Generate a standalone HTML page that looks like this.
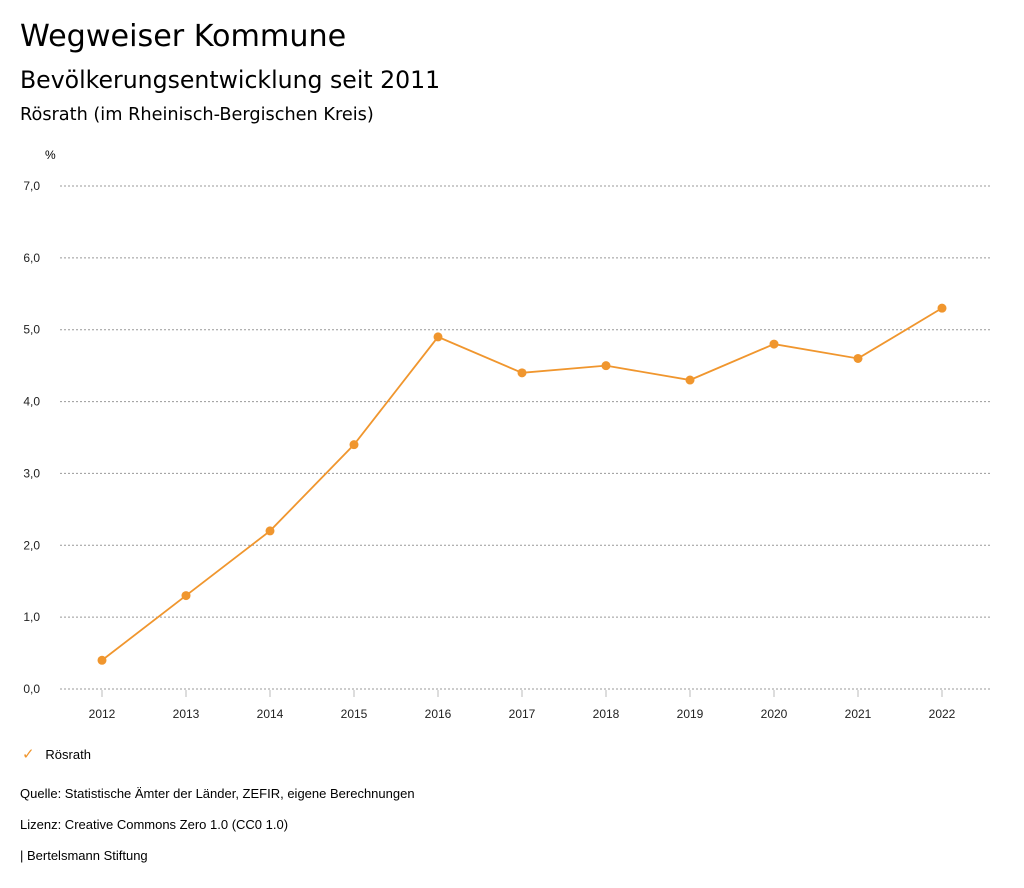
<!DOCTYPE html>
<html><head><meta charset="utf-8"><style>
body{margin:0;background:#fff;width:1024px;height:888px;overflow:hidden;font-family:"Liberation Sans","DejaVu Sans",sans-serif;color:#000}
.t{position:absolute;white-space:nowrap}
.h{font-family:"DejaVu Sans","Liberation Sans",sans-serif}
</style></head><body>
<div class="t h" style="left:20px;top:19px;font-size:30.2px">Wegweiser Kommune</div>
<div class="t h" style="left:20px;top:66px;font-size:23.6px">Bevölkerungsentwicklung seit 2011</div>
<div class="t h" style="left:20px;top:105px;font-size:17.7px">Rösrath (im Rheinisch-Bergischen Kreis)</div>
<svg id="chart" width="1024" height="888" style="position:absolute;left:0;top:0" font-family="Liberation Sans, DejaVu Sans, sans-serif"></svg>
<div class="t" style="left:22px;top:745px;font-size:13px"><span style="color:#f0962e;font-size:15px">✓</span>&nbsp;&nbsp;&nbsp;Rösrath</div>
<div class="t" style="left:20px;top:786px;font-size:13px">Quelle: Statistische Ämter der Länder, ZEFIR, eigene Berechnungen</div>
<div class="t" style="left:20px;top:817px;font-size:13px">Lizenz: Creative Commons Zero 1.0 (CC0 1.0)</div>
<div class="t" style="left:20px;top:848px;font-size:13px">| Bertelsmann Stiftung</div>
<script>
const years=[2012,2013,2014,2015,2016,2017,2018,2019,2020,2021,2022];
const values=[0.4,1.3,2.2,3.4,4.9,4.4,4.5,4.3,4.8,4.6,5.3];
const yTicks=[0,1,2,3,4,5,6,7];
const yTickLabels=["0,0","1,0","2,0","3,0","4,0","5,0","6,0","7,0"];
const NS="http://www.w3.org/2000/svg";
const svg=document.getElementById('chart');
const x=i=>102+i*84;
const y=v=>689-v*(503/7);
function mk(t,a){const e=document.createElementNS(NS,t);for(const k in a)e.setAttribute(k,a[k]);svg.appendChild(e);return e;}
let u=mk('text',{x:45,y:159,'font-size':12});u.textContent='%';


yTicks.forEach((v,i)=>{
 const g=mk('line',{x1:60,x2:990,y1:y(v),y2:y(v),stroke:'#999','stroke-dasharray':'2,2','stroke-width':1});
 
 
 const t=mk('text',{x:40,y:y(v)+4,'font-size':12,'text-anchor':'end',fill:'#222'});t.textContent=yTickLabels[i];
 
 
});
years.forEach((yr,i)=>{
 const l=mk('line',{x1:x(i),x2:x(i),y1:690,y2:697,stroke:'#bbb'});
 
 
 const t=mk('text',{x:x(i),y:718,'font-size':12,'text-anchor':'middle',fill:'#222'});t.textContent=yr;
 
 
});
const p=mk('polyline',{points:values.map((v,i)=>x(i)+','+y(v)).join(' '),fill:'none',stroke:'#f0962e','stroke-width':1.8});


values.forEach((v,i)=>{
 const c=mk('circle',{cx:x(i),cy:y(v),r:4.5,fill:'#f0962e'});
 
 
});
</script>
</body></html>
